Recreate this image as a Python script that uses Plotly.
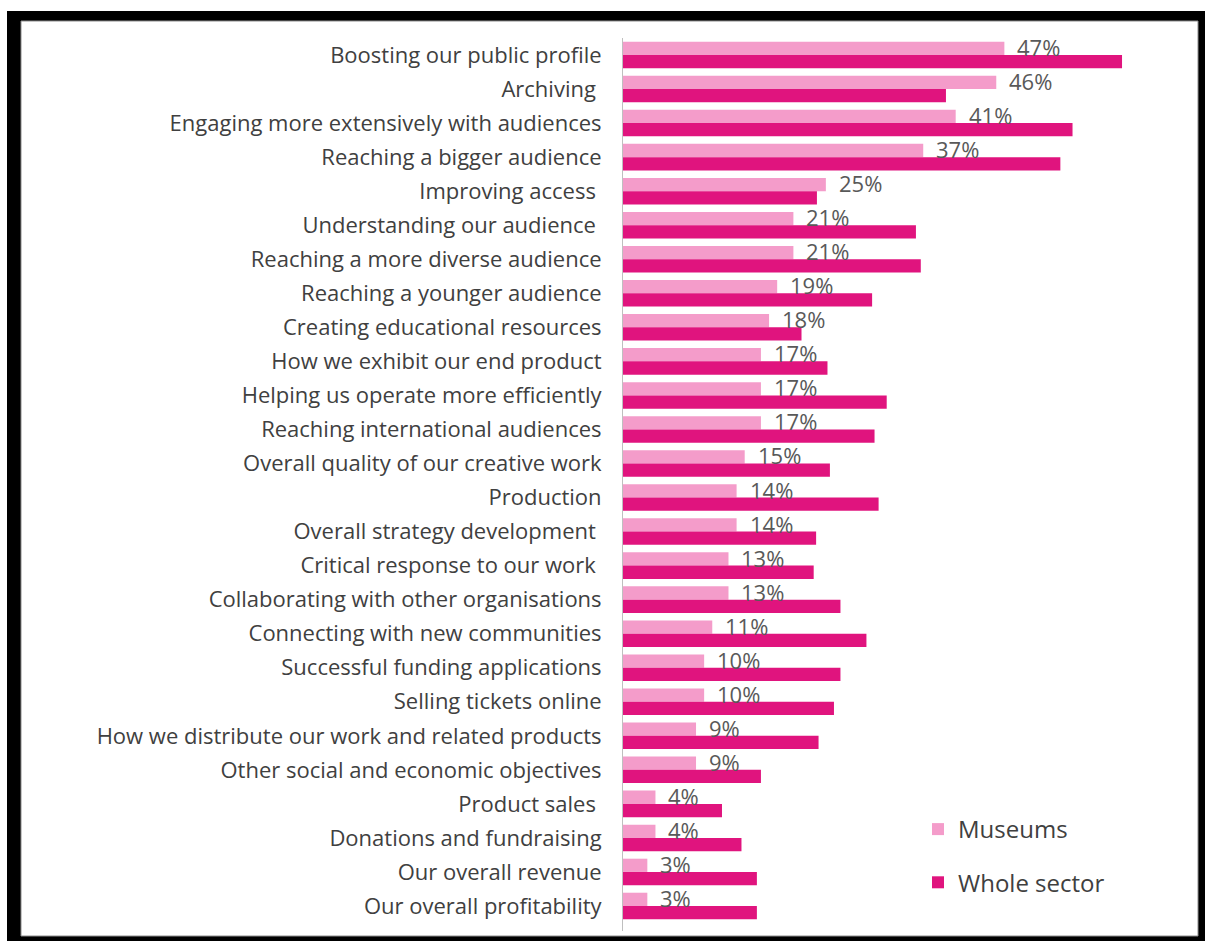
import plotly.graph_objects as go

categories = [
    "Boosting our public profile",
    "Archiving ",
    "Engaging more extensively with audiences",
    "Reaching a bigger audience",
    "Improving access ",
    "Understanding our audience ",
    "Reaching a more diverse audience",
    "Reaching a younger audience",
    "Creating educational resources",
    "How we exhibit our end product",
    "Helping us operate more efficiently",
    "Reaching international audiences",
    "Overall quality of our creative work",
    "Production",
    "Overall strategy development ",
    "Critical response to our work ",
    "Collaborating with other organisations",
    "Connecting with new communities",
    "Successful funding applications",
    "Selling tickets online",
    "How we distribute our work and related products",
    "Other social and economic objectives",
    "Product sales ",
    "Donations and fundraising",
    "Our overall revenue",
    "Our overall profitability",
]

museums = [47, 46, 41, 37, 25, 21, 21, 19, 18, 17, 17, 17, 15, 14, 14, 13, 13, 11, 10, 10, 9, 9, 4, 4, 3, 3]
whole_sector = [61.5, 39.8, 55.4, 53.9, 23.9, 36.1, 36.7, 30.7, 22.0, 25.2, 32.5, 31.0, 25.5,
                31.5, 23.8, 23.5, 26.8, 30.0, 26.8, 26.0, 24.1, 17.0, 12.2, 14.6, 16.5, 16.5]

series_names = ["Museums", "Whole sector"]
series_colors = ["#F49CCA", "#E0147E"]

W, H = 1205, 941
ML, MR, MT, MB = 623, 14, 38, 10
PW, PH = W - ML - MR, H - MT - MB

fig = go.Figure()
for name, vals, col in zip(series_names, [museums, whole_sector], series_colors):
    fig.add_trace(go.Bar(
        y=categories, x=vals, name=name, orientation="h",
        marker=dict(color=col, line=dict(width=0)),
        legendgroup=name, hoverinfo="x+y",
    ))

annotations = []
for cat, v in zip(categories, museums):
    annotations.append(dict(
        x=v, y=cat, xref="x", yref="y", text=f"{v}%", showarrow=False,
        xanchor="left", yanchor="middle", xshift=11, yshift=8,
        font=dict(family="Open Sans", size=22, color="#595959"),
    ))


def px_x(px):
    return (px - ML) / PW


def px_y(py):
    return (H - MB - py) / PH


border_rects = [
    (7, 11, 1210, 21),
    (7, 11, 21, 946),
    (1198, 11, 1210, 946),
    (7, 936, 1210, 946),
]
shapes = []
for x0, y0, x1, y1 in border_rects:
    shapes.append(dict(type="rect", xref="paper", yref="paper",
                       x0=px_x(x0), x1=px_x(x1), y0=px_y(y1), y1=px_y(y0),
                       fillcolor="black", line=dict(width=0), layer="above"))
shapes.append(dict(type="rect", xref="paper", yref="paper",
                   x0=px_x(21), x1=px_x(1198), y0=px_y(936), y1=px_y(21),
                   fillcolor="rgba(0,0,0,0)", line=dict(width=1, color="#8c8c8c"), layer="above"))

fig.update_layout(
    width=W, height=H,
    margin=dict(l=ML, r=MR, t=MT, b=MB, autoexpand=False),
    paper_bgcolor="white", plot_bgcolor="white",
    barmode="group", bargap=0.22, bargroupgap=0,
    font=dict(family="Open Sans", size=22, color="#404040"),
    xaxis=dict(range=[0, 70], showticklabels=False, showgrid=False, zeroline=False,
               showline=False, fixedrange=True),
    yaxis=dict(autorange="reversed", showgrid=False, zeroline=False,
               showline=True, linecolor="#BFBFBF", linewidth=1,
               ticks="", ticklabelstandoff=16,
               tickfont=dict(family="Open Sans", size=22, color="#404040")),
    legend=dict(x=(918 - ML) / PW, y=px_y(807), xanchor="left", yanchor="top",
                traceorder="grouped", tracegroupgap=19,
                font=dict(family="Open Sans", size=24, color="#404040"),
                bgcolor="rgba(0,0,0,0)", itemclick=False),
    annotations=annotations,
    shapes=shapes,
    showlegend=True,
)

fig.write_html("out.html")
